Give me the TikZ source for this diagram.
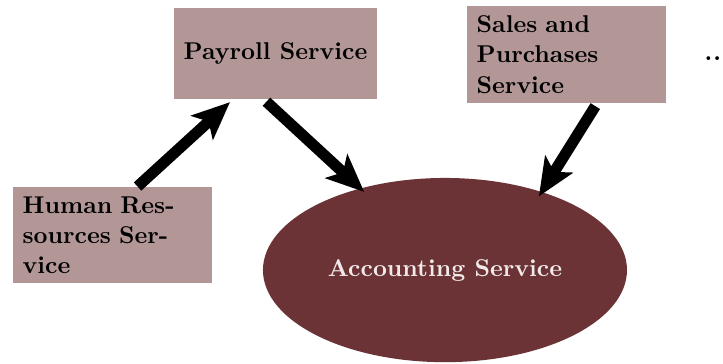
\documentclass[tikz,border=0pt]{standalone}
\usepackage{xcolor}
\usetikzlibrary{arrows.meta}
\usetikzlibrary{shapes.geometric}
\definecolor{boxrose}{RGB}{179,151,151}
\definecolor{accwine}{RGB}{107,51,53}
\definecolor{acctext}{RGB}{242,234,234}
\tikzset{
    service/.style={fill=boxrose,inner sep=4.3pt,minimum height=41pt},
    longservice/.style={service,text width=81pt,align=left},
    flow/.style={line width=5pt,-{Stealth[length=17pt,width=14.5pt,inset=4pt]},shorten <=1.5pt}
}

\begin{document}
\begin{tikzpicture}[font=\fontsize{10.95}{13.6}\selectfont\bfseries]
        \useasboundingbox (0,0) rectangle (11.46,5.755);

        \node[service] (payroll) at (4.367,4.906) {Payroll Service};
        \node[longservice] (sales) at (8.979,4.890) {Sales and\\Purchases\\Service};
        \node[longservice] (human) at (1.783,2.029) {Human Res-\\sources Ser-\\vice};
        \node[ellipse,fill=accwine,text=acctext,inner sep=0pt,
              minimum width=5.77cm,minimum height=2.92cm] (accounting) at (7.053,1.474) {Accounting Service};
        \node[anchor=base west,inner sep=0pt] (more) at (11.16,4.80) {.\kern0.55pt.\kern0.55pt.};

        \draw[flow,shorten <=0pt,shorten >=1.8pt] ([xshift=11.3pt]human.north) -- ([xshift=-19.2pt]payroll.south);
        \draw[flow,shorten >=-2.5pt] ([xshift=-5.2pt]payroll.south) -- (accounting.136);
        \draw[flow,shorten >=-2.5pt] ([xshift=13.8pt]sales.south) -- (accounting.39);
    \end{tikzpicture}
\end{document}
